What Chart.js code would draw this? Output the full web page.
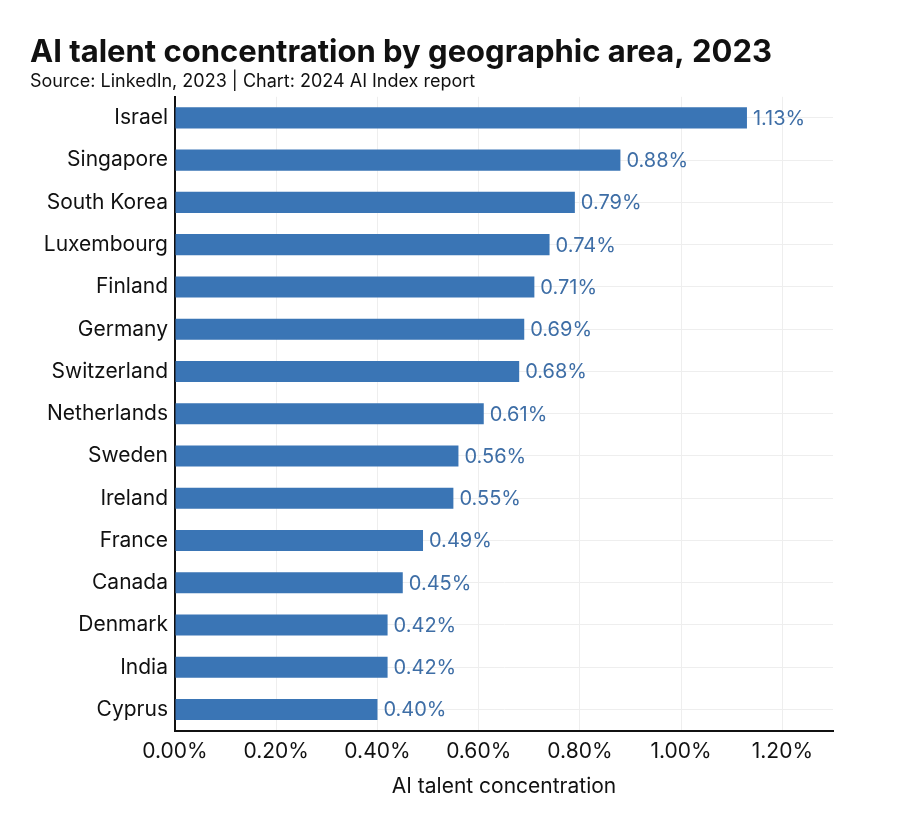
<!DOCTYPE html>
<html>
<head>
<meta charset="utf-8">
<script src="https://cdn.jsdelivr.net/npm/chart.js@4"></script>
<style>
  html, body { margin: 0; padding: 0; background: #ffffff; }
  #wrap { width: 900px; height: 815px; position: relative; }
</style>
</head>
<body>
<div id="wrap"><canvas id="c" width="900" height="815"></canvas></div>
<script>
const categories = ["Israel","Singapore","South Korea","Luxembourg","Finland","Germany","Switzerland","Netherlands","Sweden","Ireland","France","Canada","Denmark","India","Cyprus"];
const values = [1.13,0.88,0.79,0.74,0.71,0.69,0.68,0.61,0.56,0.55,0.49,0.45,0.42,0.42,0.40];
const xTickValues = [0,0.2,0.4,0.6,0.8,1.0,1.2];
const titleText = "AI talent concentration by geographic area, 2023";
const subtitleText = "Source: LinkedIn, 2023 | Chart: 2024 AI Index report";
const xAxisTitle = "AI talent concentration";

const FONT = "Inter";
const BAR = "#3a75b5";
const LABEL = "#3e6ea6";

const valueLabels = {
  id: 'valueLabels',
  afterDatasetsDraw(chart) {
    const ctx = chart.ctx;
    const meta = chart.getDatasetMeta(0);
    ctx.save();
    ctx.font = "20px " + FONT;
    ctx.fillStyle = LABEL;
    ctx.textAlign = 'left';
    ctx.textBaseline = 'middle';
    meta.data.forEach((bar, i) => {
      ctx.fillText(values[i].toFixed(2) + "%", bar.x + 6, bar.y + 1);
    });
    ctx.restore();
  }
};

new Chart(document.getElementById('c'), {
  type: 'bar',
  data: {
    labels: categories,
    datasets: [{
      data: values,
      backgroundColor: BAR,
      borderWidth: 0,
      barPercentage: 0.5,
      categoryPercentage: 1.0
    }]
  },
  options: {
    indexAxis: 'y',
    responsive: false,
    animation: false,
    devicePixelRatio: 1,
    layout: { padding: { left: 30, right: 67, top: 34, bottom: 16 } },
    plugins: {
      legend: { display: false },
      tooltip: { enabled: false },
      title: {
        display: true, text: titleText, align: 'start', color: '#111',
        font: { family: FONT, size: 31, weight: 'bold' },
        padding: { top: 0, bottom: 0 }
      },
      subtitle: {
        display: true, text: subtitleText, align: 'start', color: '#111',
        font: { family: FONT, size: 18 },
        padding: { top: 0, bottom: 4 }
      }
    },
    scales: {
      x: {
        min: 0, max: 1.3,
        afterBuildTicks(scale) { scale.ticks = xTickValues.map(v => ({ value: v })); },
        ticks: {
          color: '#111', padding: 8,
          font: { family: FONT, size: 21 },
          callback: v => Number(v).toFixed(2) + "%"
        },
        grid: { color: '#eeeeee', drawTicks: false },
        border: { color: '#111', width: 2 },
        title: {
          display: true, text: xAxisTitle, color: '#111',
          font: { family: FONT, size: 21 }, padding: { top: 2, bottom: 0 }
        }
      },
      y: {
        afterFit(scale) { scale.width = 145; },
        ticks: { color: '#111', padding: 7, font: { family: FONT, size: 21 } },
        grid: { color: '#eeeeee', offset: false, drawTicks: false },
        border: { color: '#111', width: 2 }
      }
    }
  },
  plugins: [valueLabels]
});
</script>
</body>
</html>
